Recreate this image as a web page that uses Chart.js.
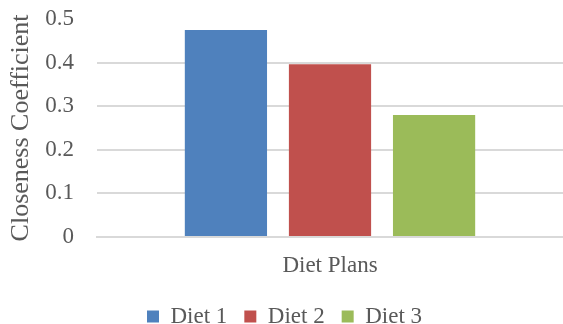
<!DOCTYPE html>
<html>
<head>
<meta charset="utf-8">
<script src="https://cdn.jsdelivr.net/npm/chart.js@4"></script>
<style>
  html, body { margin: 0; padding: 0; background: #fff; }
  #wrap { width: 563px; height: 324px; }
</style>
</head>
<body>
<div id="wrap"><canvas id="chart"></canvas></div>
<script>
const categories = ['Diet Plans'];
const seriesNames = ['Diet 1', 'Diet 2', 'Diet 3'];
const diet1 = [0.475];
const diet2 = [0.396];
const diet3 = [0.280];
const colors = ['#4f81bd', '#c0504d', '#9bbb59'];

const ctx = document.getElementById('chart');
const textColor = '#595959';
const serif = 'Liberation Serif, Times New Roman, serif';

var chart = new Chart(ctx, {
  type: 'bar',
  data: {
    labels: categories,
    datasets: [diet1, diet2, diet3].map((d, i) => ({
      label: seriesNames[i],
      data: d,
      backgroundColor: colors[i],
      borderWidth: 0,
      categoryPercentage: 0.67,
      barPercentage: 0.79
    }))
  },
  options: {
    responsive: true,
    maintainAspectRatio: false,
    animation: false,
    layout: { padding: { left: 6, right: 0, top: 19, bottom: -14 } },
    plugins: {
      tooltip: { enabled: false },
      legend: {
        position: 'bottom',
        labels: {
          color: textColor,
          font: { family: serif, size: 23 },
          boxWidth: 12,
          boxHeight: 12,
          padding: 17
        }
      }
    },
    scales: {
      x: {
        grid: { display: false },
        border: { color: '#d9d9d9', width: 2 },
        ticks: {
          color: textColor,
          font: { family: serif, size: 23, lineHeight: 1.7 },
          padding: 2
        }
      },
      y: {
        min: 0,
        max: 0.5,
        border: { display: false },
        afterFit: (scale) => { scale.width = 91; },
        grid: {
          color: (c) => c.tick && c.tick.value >= 0.5 ? 'rgba(0,0,0,0)' : '#d9d9d9',
          lineWidth: 2,
          drawTicks: true,
          tickLength: 21,
          tickColor: 'rgba(0,0,0,0)'
        },
        ticks: {
          stepSize: 0.1,
          color: textColor,
          font: { family: serif, size: 23 },
          padding: 2,
          callback: (v) => +v.toFixed(1)
        },
        title: {
          display: true,
          text: 'Closeness Coefficient',
          color: textColor,
          font: { family: serif, size: 26 },
          padding: { top: 0, bottom: 8 }
        }
      }
    }
  }
});
</script>
</body>
</html>
